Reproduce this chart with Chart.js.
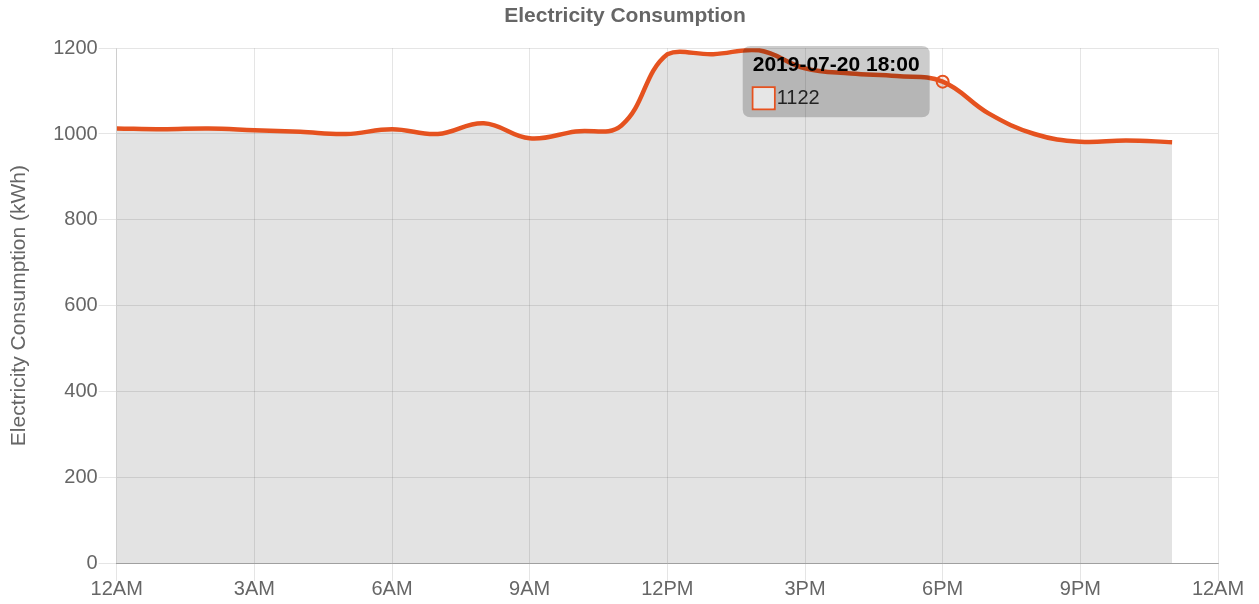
<!DOCTYPE html>
<html>
<head>
<meta charset="utf-8">
<script src="https://cdn.jsdelivr.net/npm/chart.js@4/dist/chart.umd.min.js"></script>
<style>
  html, body { margin: 0; padding: 0; background: #fff; }
  #wrap { width: 1259px; height: 604px; }
</style>
</head>
<body>
<div id="wrap"><canvas id="usageChart"></canvas></div>
<script>
const hours = [0, 1, 2, 3, 4, 5, 6, 7, 8, 9, 10, 11, 12, 13, 14, 15, 16, 17, 18, 19, 20, 21, 22, 23];
const consumption = [1013, 1011, 1013, 1009, 1005, 1000, 1011, 1000, 1025, 990, 1006, 1020, 1186, 1186, 1195, 1153, 1141, 1135, 1122, 1048, 1000, 982, 985, 981];
const xTicks = ['12AM', '3AM', '6AM', '9AM', '12PM', '3PM', '6PM', '9PM', '12AM'];
const day = '2019-07-20';
const lineColor = '#e5521f';

Chart.defaults.font.family = "'Helvetica Neue', Helvetica, Arial, 'Liberation Sans', sans-serif";
Chart.defaults.color = '#666';

const ctx = document.getElementById('usageChart').getContext('2d');
const chart = new Chart(ctx, {
    type: 'line',
    data: {
        datasets: [{
            label: 'Consumption',
            data: hours.map((h, i) => ({ x: h, y: consumption[i] })),
            borderColor: lineColor,
            backgroundColor: 'rgba(0,0,0,0.11)',
            borderWidth: 4.5,
            fill: true,
            tension: 0.4,
            pointRadius: 0,
            pointHoverRadius: 6,
            pointHoverBorderWidth: 2,
            pointHoverBorderColor: lineColor,
            pointHoverBackgroundColor: 'rgba(229,82,31,0.1)'
        }]
    },
    options: {
        responsive: true,
        maintainAspectRatio: false,
        animation: false,
        layout: { padding: { left: 0, right: 9, top: 0, bottom: 7 } },
        plugins: {
            legend: { display: false },
            title: {
                display: true,
                text: 'Electricity Consumption',
                font: { size: 21, weight: 'bold' },
                color: '#666',
                padding: { top: 4, bottom: 19 }
            },
            tooltip: {
                enabled: true,
                backgroundColor: 'rgba(0,0,0,0.2)',
                titleColor: '#000',
                bodyColor: '#222',
                titleFont: { size: 21, weight: 'bold' },
                bodyFont: { size: 20 },
                padding: { x: 10, y: 7 },
                cornerRadius: 8,
                caretSize: 0,
                caretPadding: 13,
                xAlign: 'right',
                yAlign: 'center',
                boxWidth: 22,
                boxHeight: 22,
                titleMarginBottom: 8,
                callbacks: {
                    title: items => day + ' ' + String(items[0].parsed.x).padStart(2, '0') + ':00',
                    label: item => String(item.parsed.y),
                    labelColor: () => ({ borderColor: lineColor, backgroundColor: '#e6e6e6', borderWidth: 2 })
                }
            }
        },
        scales: {
            x: {
                type: 'linear',
                min: 0,
                max: 24,
                afterFit: (scale) => { scale.paddingRight = 41; },
                ticks: {
                    stepSize: 3,
                    font: { size: 20 },
                    color: '#666',
                    padding: -4,
                    maxRotation: 0,
                    callback: (v) => xTicks[v / 3]
                },
                grid: { color: 'rgba(0,0,0,0.1)', tickLength: 18 },
                border: { color: 'rgba(0,0,0,0.3)' }
            },
            y: {
                min: 0,
                max: 1200,
                ticks: {
                    stepSize: 200,
                    font: { size: 20 },
                    color: '#666',
                    padding: 1,
                    callback: (v) => String(v)
                },
                grid: { color: 'rgba(0,0,0,0.1)', tickLength: 18 },
                border: { color: 'rgba(0,0,0,0.1)' },
                title: {
                    display: true,
                    text: 'Electricity Consumption (kWh)',
                    font: { size: 21 },
                    color: '#666',
                    padding: { top: 7, bottom: 20 }
                }
            }
        }
    }
});

const active = [{ datasetIndex: 0, index: 18 }];
chart.setActiveElements(active);
chart.tooltip.setActiveElements(active, { x: 0, y: 0 });
chart.update();
</script>
</body>
</html>
